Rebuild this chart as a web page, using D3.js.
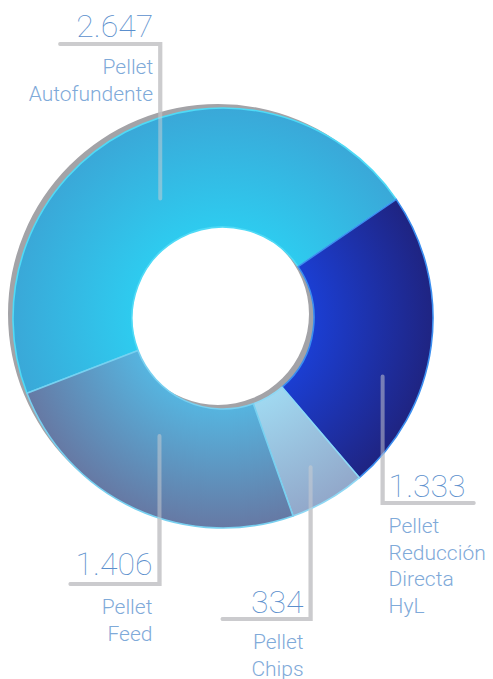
<!DOCTYPE html>
<html>
<head>
<meta charset="utf-8">
<script src="https://cdn.jsdelivr.net/npm/d3@7"></script>
<style>
  html, body { margin: 0; padding: 0; background: #fff; }
  svg { display: block; }
  text { font-family: "Helvetica Neue", Roboto, "Liberation Sans", sans-serif; font-weight: 300; }
  text.value { font-weight: 100; }
</style>
</head>
<body>
<svg id="chart" width="493" height="679"></svg>
<script>
// Production by pellet type
const products = ["Autofundente", "HyL", "Chips", "Feed"];
const values = [2647, 1333, 334, 1406];
const valueLabels = ["2.647", "1.333", "334", "1.406"];
const nameLines = [
  ["Pellet", "Autofundente"],
  ["Pellet", "Reducción", "Directa", "HyL"],
  ["Pellet", "Chips"],
  ["Pellet", "Feed"]
];

// Slice fills: [inner colour, outer colour] and edge colour
const fills = [
  ["#2ecbef", "#3aa8d8"],
  ["#1b3ed2", "#1f2482"],
  ["#a0d8f0", "#92a8ca"],
  ["#56b4df", "#6679a4"]
];
const edges = ["#4fdaf6", "#3b8ef0", "#8fd8f4", "#78d0f0"];

const cx = 223, cy = 318;
const rOuter = 210, rInner = 91;

const svg = d3.select("#chart");
const defs = svg.append("defs");

// Radial gradients centred on the donut's own origin
fills.forEach((f, i) => {
  const g = defs.append("radialGradient")
    .attr("id", "grad" + i)
    .attr("gradientUnits", "userSpaceOnUse")
    .attr("cx", 0).attr("cy", 0).attr("r", rOuter);
  g.append("stop").attr("offset", rInner / rOuter).attr("stop-color", f[0]);
  g.append("stop").attr("offset", 1).attr("stop-color", f[1]);
});

const startDeg = -111;
const pie = d3.pie().sort(null)
  .startAngle(startDeg * Math.PI / 180)
  .endAngle(startDeg * Math.PI / 180 + 2 * Math.PI);
const slices = pie(values);

const arc = d3.arc().innerRadius(rInner).outerRadius(rOuter);
const ring = d3.arc().innerRadius(rInner).outerRadius(rOuter)
  .startAngle(0).endAngle(2 * Math.PI);

// Leader line geometry: where the line meets the slice and where the elbow goes
const leader = [
  { frac: 0.5,  r: 135, elbowY: 44,  arm: -100, side: "left",  dy: -7 },
  { frac: 0.65, r: 170, elbowY: 503, arm: 91,   side: "right", dy: -6 },
  { frac: 0.48, r: 173, elbowY: 619, arm: -88,  side: "left",  dy: -6 },
  { frac: 0.54, r: 134, elbowY: 584, arm: -89,  side: "left",  dy: -9 }
];

const pts = slices.map((s, i) => {
  const L = leader[i];
  const a = s.startAngle + L.frac * (s.endAngle - s.startAngle);
  return { x: cx + L.r * Math.sin(a), y: cy - L.r * Math.cos(a), L };
});

const linePath = p => `M${p.x},${p.y}V${p.L.elbowY}H${p.x + p.L.arm}`;

// Leader lines underneath the donut
const under = svg.append("g");
pts.forEach(p => {
  under.append("path").attr("d", linePath(p))
    .attr("fill", "none").attr("stroke", "#c8c8ca")
    .attr("stroke-width", 4).attr("stroke-linecap", "round");
});

// Grey shadow ring
svg.append("path")
  .attr("transform", `translate(${cx - 5},${cy - 4})`)
  .attr("d", ring())
  .attr("fill", "#a3a3a7");

// Donut slices
const donut = svg.append("g").attr("transform", `translate(${cx},${cy})`);
donut.selectAll("path.slice")
  .data(slices)
  .join("path")
  .attr("class", "slice")
  .attr("d", arc)
  .attr("fill", (d, i) => `url(#grad${i})`)
  .attr("stroke", (d, i) => edges[i])
  .attr("stroke-width", 1.6)
  .attr("stroke-linejoin", "round");

// Translucent leader lines over the donut
const over = svg.append("g").attr("opacity", 0.5);
pts.forEach(p => {
  over.append("path").attr("d", linePath(p))
    .attr("fill", "none").attr("stroke", "#cfcfd2")
    .attr("stroke-width", 4).attr("stroke-linecap", "round");
});

// Labels
const labels = svg.append("g");
pts.forEach((p, i) => {
  const left = p.L.side === "left";
  const anchor = left ? "end" : "start";
  const tx = left ? p.x - 7 : p.x + 6;
  labels.append("text")
    .attr("class", "value")
    .attr("x", tx).attr("y", p.L.elbowY + p.L.dy)
    .attr("text-anchor", anchor)
    .attr("font-size", 32)
    .attr("fill", "#5b8fcd")
    .text(valueLabels[i]);
  nameLines[i].forEach((line, k) => {
    labels.append("text")
      .attr("x", tx).attr("y", p.L.elbowY + 30 + k * 26.5)
      .attr("text-anchor", anchor)
      .attr("font-size", 21)
      .attr("fill", "#7faad9")
      .text(line);
  });
});
</script>
</body>
</html>
